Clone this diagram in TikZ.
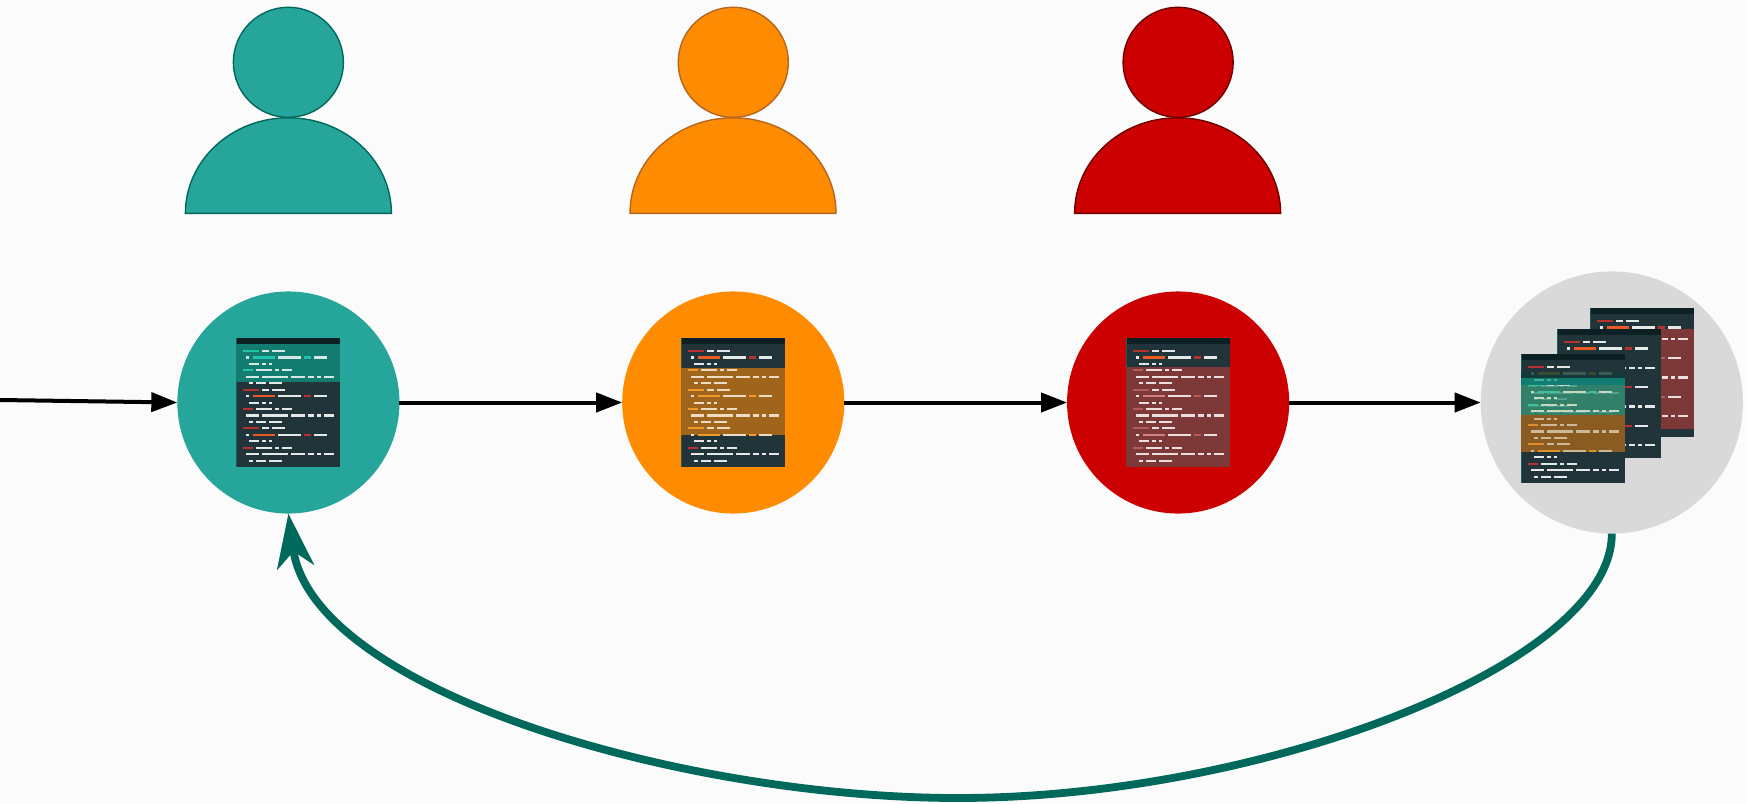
\documentclass[tikz,border=0pt]{standalone}
\usepackage{xcolor}
\usetikzlibrary{positioning,arrows.meta}

\definecolor{pagebg}{HTML}{FBFBFB}
\definecolor{tealfill}{HTML}{26A69A}
\definecolor{tealline}{HTML}{00695C}
\definecolor{orangefill}{HTML}{FF8C00}
\definecolor{orangeline}{HTML}{B5651D}
\definecolor{redfill}{HTML}{CC0000}
\definecolor{redline}{HTML}{6E0000}
\definecolor{stackfill}{HTML}{D9D9D9}
\definecolor{panelbg}{HTML}{21343A}
\definecolor{panelhead}{HTML}{0C2024}
\definecolor{paneledge}{HTML}{1E5A5A}
\definecolor{rowwhite}{HTML}{E4E8E8}
\definecolor{rowred}{HTML}{B5302F}
\definecolor{rowhot}{HTML}{E95A24}

\tikzset{
    stage/.style={circle, inner sep=0pt, outer sep=0pt, minimum size=2.22cm},
    head/.style={circle, inner sep=0pt, outer sep=0pt, minimum size=1.10cm, line width=0.014cm},
    body/.style={line width=0.014cm},
    flow/.style={line width=0.04cm, -{Triangle[length=0.26cm,width=0.19cm]}},
    loopback/.style={line width=0.078cm, draw=tealline, -{Stealth[length=0.54cm,width=0.37cm,inset=0.16cm]}},
    codeline/.style={line width=0.021cm},
}

% one panel of code: three times the same six rows
\newcommand{\coderows}{%
    \foreach \p in {0,1,2} {
        \foreach \rownum/\xa/\xb/\col in {
            0/6.7/22.7/codeaccent, 0/26/32.7/codewhite, 0/35.7/48.7/codewhite,
            1/9.7/13/codewhite, 1/16.3/39/codehot, 1/42/65/codewhite, 1/68/74.7/codeaccent, 1/77.7/91/codewhite,
            2/13/22.7/codewhite, 2/26/29.3/codewhite, 2/32.7/35.7/codewhite,
            3/6.7/16.3/codeaccent, 3/19.3/35.7/codewhite, 3/39/42.3/codewhite, 3/45.3/55.3/codewhite,
            4/9.7/22.7/codewhite, 4/26/52/codewhite, 4/55/68.3/codewhite, 4/71.3/78/codewhite, 4/81/84.3/codewhite, 4/87.7/97.7/codewhite,
            5/13/16.3/codewhite, 5/19.3/29.3/codewhite, 5/32.3/45.3/codewhite} {
            \draw[codeline, draw=\col] (\xa,{13+6.45*(\rownum+6*\p)}) -- (\xb,{13+6.45*(\rownum+6*\p)});
        }
    }
}

% {top}{bottom}{row shift}{white}{accent}{hot}
\newcommand{\rowsin}[6]{%
    \begin{scope}
        \clip (0,#1) rectangle (103.7,#2);
        \colorlet{codewhite}{#4}\colorlet{codeaccent}{#5}\colorlet{codehot}{#6}
        \begin{scope}[shift={(0,#3)}]
            \coderows
        \end{scope}
    \end{scope}
}

% {top}{bottom}{fill}{row shift}{white}{accent}{hot}
\newcommand{\codeband}[7]{%
    \fill[#3] (0,#1) rectangle (103.7,#2);
    \rowsin{#1}{#2}{#4}{#5}{#6}{#7}
}

\newcommand{\basepanel}{%
    \fill[panelbg] (0,0) rectangle (103.7,128.7);
    \fill[panelhead] (0,0) rectangle (103.7,6.4);
    \fill[paneledge] (0,0) rectangle (0.8,128.7);
    \rowsin{6.4}{128.7}{0}{rowwhite}{rowred}{rowhot}
}

\begin{document}
\begin{tikzpicture}[x=0.01cm, y=-0.01cm]

    \useasboundingbox (0,0) rectangle (1746,803);
    \fill[pagebg] (0,0) rectangle (1746,803);

    \node[stage, fill=tealfill] (tealstage) at (288.4,402.5) {};
    \node[stage, fill=orangefill, right=2.226cm of tealstage] (orangestage) {};
    \node[stage, fill=redfill, right=2.226cm of orangestage] (redstage) {};
    \node[stage, fill=stackfill, minimum size=2.62cm] (stackstage) at (1611.8,402.5) {};
    \coordinate (entry) at (0,400);

    \node[head, fill=tealfill, draw=tealline, above=1.74cm of tealstage] (tealhead) {};
    \node[head, fill=orangefill, draw=orangeline, above=1.74cm of orangestage] (orangehead) {};
    \node[head, fill=redfill, draw=redline, above=1.74cm of redstage] (redhead) {};

    \foreach \who/\cx/\fillc/\linec in {teal/288.4/tealfill/tealline, orange/733/orangefill/orangeline, red/1177.6/redfill/redline} {
        \draw[body, fill=\fillc, draw=\linec] (\cx-103,213.3) arc[start angle=180, end angle=360, x radius=103, y radius=95.5] -- cycle;
    }

    % teal panel
    \begin{scope}[shift={(236.3,338)}]
        \basepanel
        \definecolor{bandc}{HTML}{127C70}\definecolor{bandw}{HTML}{D6E8E4}\definecolor{banda}{HTML}{1FC3AC}
        \codeband{6.4}{43.7}{bandc}{0}{bandw}{banda}{banda}
    \end{scope}

    % orange panel
    \begin{scope}[shift={(681.3,338)}]
        \basepanel
        \definecolor{bandc}{HTML}{A0651D}\definecolor{bandw}{HTML}{ECDCC4}\definecolor{banda}{HTML}{F09A2A}
        \codeband{30}{97}{bandc}{0}{bandw}{banda}{banda}
    \end{scope}

    % red panel
    \begin{scope}[shift={(1126.3,338)}]
        \basepanel
        \definecolor{bandc}{HTML}{7D3838}\definecolor{bandw}{HTML}{EADEDE}\definecolor{banda}{HTML}{B85A5A}\definecolor{bandh}{HTML}{D08080}
        \codeband{29}{128.7}{bandc}{0}{bandw}{banda}{bandh}
    \end{scope}

    % stack of three panels
    \begin{scope}[shift={(1590.3,308)}]
        \basepanel
        \definecolor{bandc}{HTML}{7D3838}\definecolor{bandw}{HTML}{EADEDE}\definecolor{banda}{HTML}{B85A5A}\definecolor{bandh}{HTML}{D08080}
        \codeband{21}{121}{bandc}{-8}{bandw}{banda}{bandh}
    \end{scope}
    \begin{scope}[shift={(1557.3,329)}]
        \basepanel
    \end{scope}
    \begin{scope}[shift={(1521.3,354)}]
        \basepanel
        \definecolor{bandc}{HTML}{123A3C}\definecolor{bandw}{HTML}{3F5A50}\definecolor{banda}{HTML}{3A4A30}
        \codeband{18}{24}{bandc}{0}{bandw}{banda}{banda}
        \definecolor{bandc}{HTML}{117C70}\definecolor{bandw}{HTML}{4FA89C}\definecolor{banda}{HTML}{4FA89C}
        \codeband{24}{31}{bandc}{0}{bandw}{banda}{banda}
        \definecolor{bandc}{HTML}{33806A}\definecolor{bandw}{HTML}{4FA08F}\definecolor{banda}{HTML}{3F9A80}
        \codeband{31}{61}{bandc}{0}{bandw}{banda}{banda}
        \definecolor{bandw}{HTML}{C8D8C0}\definecolor{banda}{HTML}{3FC09A}
        \rowsin{31}{61}{18.3}{bandw}{banda}{banda}
        \definecolor{bandc}{HTML}{8A5C22}\definecolor{bandw}{HTML}{CDB99A}\definecolor{banda}{HTML}{E0902A}
        \codeband{61}{98}{bandc}{0}{bandw}{banda}{banda}
    \end{scope}

    \draw[flow] (entry) -- (tealstage.west);
    \draw[flow] (tealstage) -- (orangestage);
    \draw[flow] (orangestage) -- (redstage);
    \draw[flow] (redstage) -- (stackstage);

    \draw[loopback] (stackstage.south) .. controls (1612,665) and (1260,798) .. (958,798) .. controls (680,798) and (312,690) .. (tealstage.south);

\end{tikzpicture}
\end{document}
